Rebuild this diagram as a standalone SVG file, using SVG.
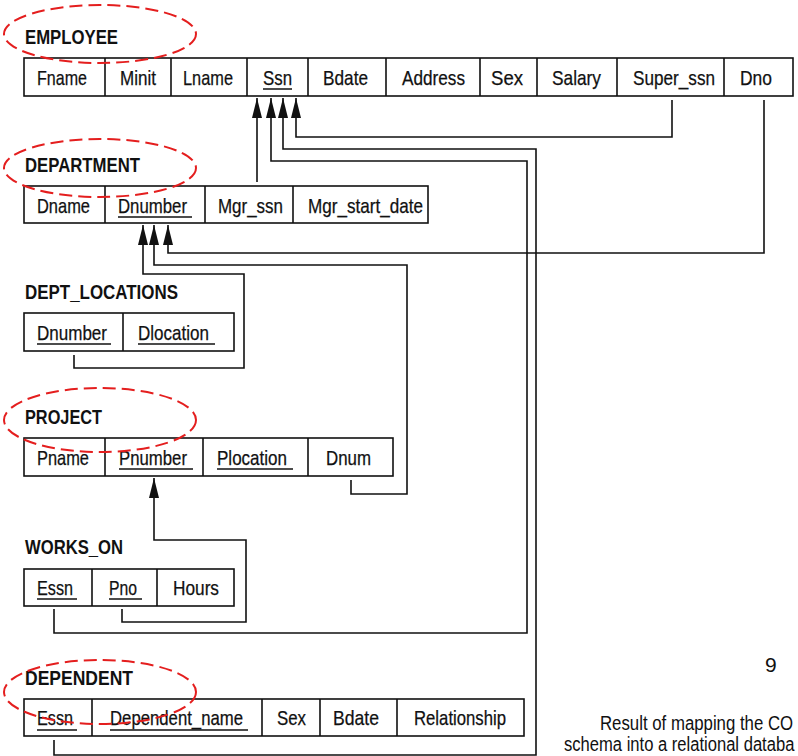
<svg xmlns="http://www.w3.org/2000/svg" width="798" height="756" viewBox="0 0 798 756">
<style>
.tbl{fill:#fff;stroke:#111;stroke-width:1.6}
.div{stroke:#111;stroke-width:1.6}
.t{font-family:"Liberation Sans",Arial,sans-serif;font-size:21px;fill:#111;stroke:#111;stroke-width:0.25}
.h{font-family:"Liberation Sans",Arial,sans-serif;font-size:20px;font-weight:bold;fill:#111}
.u{stroke:#111;stroke-width:1.5}
.c{fill:none;stroke:#111;stroke-width:1.6}
.e{fill:none;stroke:#e41e1e;stroke-width:2;stroke-dasharray:13 6}
.cap{font-family:"Liberation Sans",Arial,sans-serif;font-size:21px;fill:#111}
</style>
<defs>
<marker id="ah" markerUnits="userSpaceOnUse" viewBox="0 0 20 10" markerWidth="20" markerHeight="10" refX="20" refY="5" orient="auto">
<path d="M0,0 L20,5 L0,10 z" fill="#111"/>
</marker>
</defs>
<rect width="798" height="756" fill="#fff"/>

<g id="employee">
<text class="h" x="25" y="44" textLength="93" lengthAdjust="spacingAndGlyphs">EMPLOYEE</text>
<rect class="tbl" x="24" y="58" width="769" height="38"/>
<path class="div" d="M105,58V96M171,58V96M247,58V96M308,58V96M386,58V96M480,58V96M537,58V96M617,58V96M724,58V96"/>
<text class="t" x="37" y="85" textLength="50" lengthAdjust="spacingAndGlyphs">Fname</text>
<text class="t" x="120" y="85" textLength="36" lengthAdjust="spacingAndGlyphs">Minit</text>
<text class="t" x="183" y="85" textLength="50" lengthAdjust="spacingAndGlyphs">Lname</text>
<text class="t" x="263" y="85" textLength="29" lengthAdjust="spacingAndGlyphs">Ssn</text>
<line class="u" x1="263" y1="89" x2="292" y2="89"/>
<text class="t" x="323" y="85" textLength="45" lengthAdjust="spacingAndGlyphs">Bdate</text>
<text class="t" x="402" y="85" textLength="63" lengthAdjust="spacingAndGlyphs">Address</text>
<text class="t" x="491" y="85" textLength="32" lengthAdjust="spacingAndGlyphs">Sex</text>
<text class="t" x="552" y="85" textLength="49" lengthAdjust="spacingAndGlyphs">Salary</text>
<text class="t" x="633" y="85" textLength="82" lengthAdjust="spacingAndGlyphs">Super_ssn</text>
<text class="t" x="740" y="85" textLength="32" lengthAdjust="spacingAndGlyphs">Dno</text>
</g>

<g id="department">
<text class="h" x="25" y="172" textLength="115" lengthAdjust="spacingAndGlyphs">DEPARTMENT</text>
<rect class="tbl" x="24" y="186" width="404" height="37"/>
<path class="div" d="M105,186V223M205,186V223M293,186V223"/>
<text class="t" x="37" y="213" textLength="53" lengthAdjust="spacingAndGlyphs">Dname</text>
<text class="t" x="118" y="213" textLength="69" lengthAdjust="spacingAndGlyphs">Dnumber</text>
<line class="u" x1="118" y1="217" x2="192" y2="217"/>
<text class="t" x="218" y="213" textLength="65" lengthAdjust="spacingAndGlyphs">Mgr_ssn</text>
<text class="t" x="308" y="213" textLength="115" lengthAdjust="spacingAndGlyphs">Mgr_start_date</text>
</g>

<g id="dept_locations">
<text class="h" x="25" y="299" textLength="153" lengthAdjust="spacingAndGlyphs">DEPT_LOCATIONS</text>
<rect class="tbl" x="24" y="313" width="210" height="38"/>
<path class="div" d="M123,313V351"/>
<text class="t" x="37" y="340" textLength="70" lengthAdjust="spacingAndGlyphs">Dnumber</text>
<line class="u" x1="37" y1="344" x2="111" y2="344"/>
<text class="t" x="138" y="340" textLength="71" lengthAdjust="spacingAndGlyphs">Dlocation</text>
<line class="u" x1="138" y1="344" x2="215" y2="344"/>
</g>

<g id="project">
<text class="h" x="25" y="424" textLength="77" lengthAdjust="spacingAndGlyphs">PROJECT</text>
<rect class="tbl" x="24" y="438" width="369" height="38"/>
<path class="div" d="M105,438V476M203,438V476M308,438V476"/>
<text class="t" x="37" y="465" textLength="52" lengthAdjust="spacingAndGlyphs">Pname</text>
<text class="t" x="119" y="465" textLength="68" lengthAdjust="spacingAndGlyphs">Pnumber</text>
<line class="u" x1="119" y1="469" x2="193" y2="469"/>
<text class="t" x="217" y="465" textLength="70" lengthAdjust="spacingAndGlyphs">Plocation</text>
<line class="u" x1="217" y1="469" x2="293" y2="469"/>
<text class="t" x="326" y="465" textLength="45" lengthAdjust="spacingAndGlyphs">Dnum</text>
</g>

<g id="works_on">
<text class="h" x="25" y="554" textLength="98" lengthAdjust="spacingAndGlyphs">WORKS_ON</text>
<rect class="tbl" x="24" y="569" width="210" height="37"/>
<path class="div" d="M92,569V606M157,569V606"/>
<text class="t" x="37" y="595" textLength="36" lengthAdjust="spacingAndGlyphs">Essn</text>
<line class="u" x1="37" y1="599" x2="77" y2="599"/>
<text class="t" x="109" y="595" textLength="28" lengthAdjust="spacingAndGlyphs">Pno</text>
<line class="u" x1="109" y1="599" x2="142" y2="599"/>
<text class="t" x="173" y="595" textLength="46" lengthAdjust="spacingAndGlyphs">Hours</text>
</g>

<g id="dependent">
<text class="h" x="25" y="685" textLength="108" lengthAdjust="spacingAndGlyphs">DEPENDENT</text>
<rect class="tbl" x="24" y="699" width="500" height="37"/>
<path class="div" d="M92,699V736M262,699V736M320,699V736M397,699V736"/>
<text class="t" x="37" y="725" textLength="36" lengthAdjust="spacingAndGlyphs">Essn</text>
<line class="u" x1="37" y1="730" x2="77" y2="730"/>
<text class="t" x="110" y="725" textLength="133" lengthAdjust="spacingAndGlyphs">Dependent_name</text>
<line class="u" x1="110" y1="730" x2="248" y2="730"/>
<text class="t" x="277" y="725" textLength="29" lengthAdjust="spacingAndGlyphs">Sex</text>
<text class="t" x="333" y="725" textLength="46" lengthAdjust="spacingAndGlyphs">Bdate</text>
<text class="t" x="414" y="725" textLength="92" lengthAdjust="spacingAndGlyphs">Relationship</text>
</g>

<g id="connectors">
<path class="c" marker-end="url(#ah)" d="M672,100V137H296V98"/>
<path class="c" marker-end="url(#ah)" d="M54,740V755H536V149H283V98"/>
<path class="c" marker-end="url(#ah)" d="M54,609V633H527V161H271V98"/>
<path class="c" marker-end="url(#ah)" d="M257,182V98"/>
<path class="c" marker-end="url(#ah)" d="M764,100V253H168V225"/>
<path class="c" marker-end="url(#ah)" d="M351,480V494H407V265H154V225"/>
<path class="c" marker-end="url(#ah)" d="M74,355V368H244V274H143V225"/>
<path class="c" marker-end="url(#ah)" d="M122,609V622H246V540H154V478"/>
</g>

<g id="highlights">
<ellipse class="e" cx="100" cy="34" rx="96" ry="29"/>
<ellipse class="e" cx="100" cy="168" rx="96" ry="29"/>
<ellipse class="e" cx="100" cy="420" rx="96" ry="32"/>
<ellipse class="e" cx="100" cy="692" rx="96" ry="32"/>
</g>

<g id="caption">
<text class="cap" x="765" y="672" font-size="24">9</text>
<text class="cap" transform="translate(600,730) scale(0.8,1)">Result of mapping the CO</text>
<text class="cap" transform="translate(564,751) scale(0.79,1)">schema into a relational databa</text>
</g>
</svg>
